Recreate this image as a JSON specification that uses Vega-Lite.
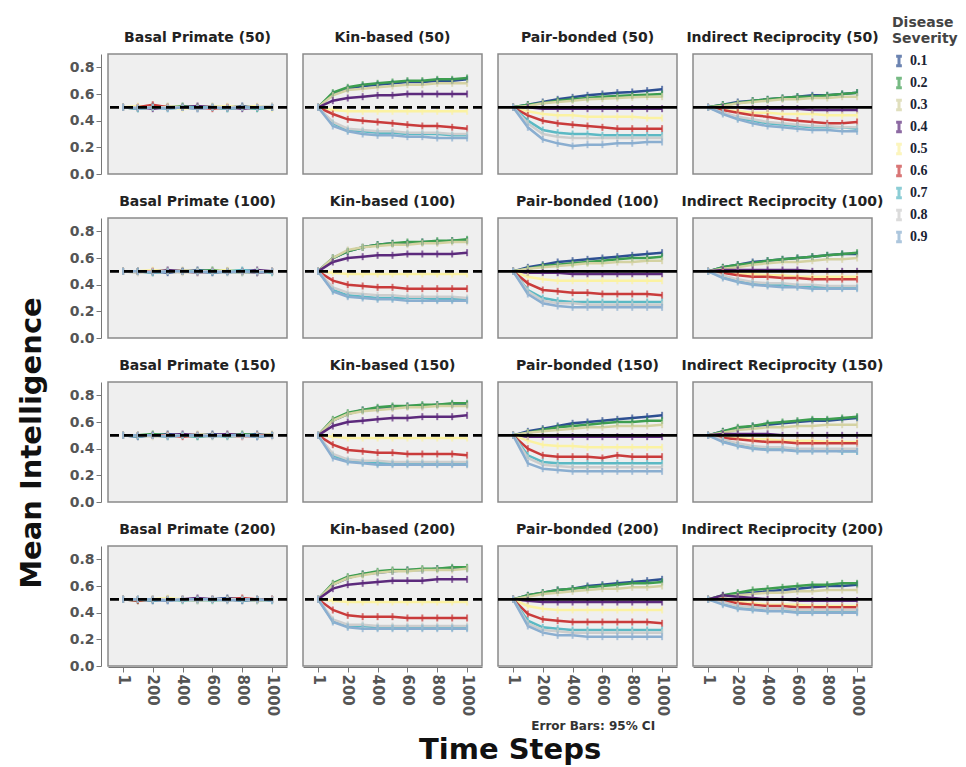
{
"$schema":"https://vega.github.io/schema/vega-lite/v6.json",
"background":"white",
"padding":{"left":18,"top":16,"right":2,"bottom":0},
"data":{"values":[
{"p":"Basal Primate (50)","t":1,"s1":0.5,"s2":0.5,"s3":0.5,"s4":0.5,"s5":0.5,"s6":0.5,"s7":0.5,"s8":0.5,"s9":0.5},
{"p":"Basal Primate (50)","t":100,"s1":0.5,"s2":0.49,"s3":0.5,"s4":0.5,"s5":0.51,"s6":0.5,"s7":0.49,"s8":0.5,"s9":0.49},
{"p":"Basal Primate (50)","t":200,"s1":0.51,"s2":0.5,"s3":0.5,"s4":0.49,"s5":0.5,"s6":0.52,"s7":0.5,"s8":0.5,"s9":0.5},
{"p":"Basal Primate (50)","t":300,"s1":0.5,"s2":0.5,"s3":0.51,"s4":0.5,"s5":0.5,"s6":0.5,"s7":0.49,"s8":0.5,"s9":0.49},
{"p":"Basal Primate (50)","t":400,"s1":0.5,"s2":0.51,"s3":0.5,"s4":0.5,"s5":0.49,"s6":0.5,"s7":0.5,"s8":0.5,"s9":0.5},
{"p":"Basal Primate (50)","t":500,"s1":0.49,"s2":0.5,"s3":0.5,"s4":0.51,"s5":0.5,"s6":0.5,"s7":0.5,"s8":0.49,"s9":0.49},
{"p":"Basal Primate (50)","t":600,"s1":0.5,"s2":0.5,"s3":0.51,"s4":0.5,"s5":0.5,"s6":0.49,"s7":0.5,"s8":0.5,"s9":0.5},
{"p":"Basal Primate (50)","t":700,"s1":0.5,"s2":0.49,"s3":0.5,"s4":0.5,"s5":0.51,"s6":0.5,"s7":0.49,"s8":0.5,"s9":0.49},
{"p":"Basal Primate (50)","t":800,"s1":0.51,"s2":0.5,"s3":0.5,"s4":0.49,"s5":0.5,"s6":0.5,"s7":0.5,"s8":0.5,"s9":0.5},
{"p":"Basal Primate (50)","t":900,"s1":0.5,"s2":0.49,"s3":0.5,"s4":0.5,"s5":0.51,"s6":0.5,"s7":0.49,"s8":0.5,"s9":0.5},
{"p":"Basal Primate (50)","t":1000,"s1":0.5,"s2":0.5,"s3":0.51,"s4":0.5,"s5":0.49,"s6":0.5,"s7":0.5,"s8":0.51,"s9":0.5},
{"p":"Kin-based (50)","t":1,"s1":0.5,"s2":0.5,"s3":0.5,"s4":0.5,"s5":0.5,"s6":0.5,"s7":0.5,"s8":0.5,"s9":0.5},
{"p":"Kin-based (50)","t":100,"s1":0.6,"s2":0.61,"s3":0.59,"s4":0.55,"s5":0.48,"s6":0.45,"s7":0.38,"s8":0.39,"s9":0.36},
{"p":"Kin-based (50)","t":200,"s1":0.64,"s2":0.65,"s3":0.63,"s4":0.57,"s5":0.47,"s6":0.41,"s7":0.33,"s8":0.34,"s9":0.32},
{"p":"Kin-based (50)","t":300,"s1":0.66,"s2":0.67,"s3":0.64,"s4":0.58,"s5":0.47,"s6":0.4,"s7":0.32,"s8":0.33,"s9":0.3},
{"p":"Kin-based (50)","t":400,"s1":0.67,"s2":0.68,"s3":0.65,"s4":0.59,"s5":0.47,"s6":0.39,"s7":0.31,"s8":0.32,"s9":0.29},
{"p":"Kin-based (50)","t":500,"s1":0.68,"s2":0.69,"s3":0.66,"s4":0.59,"s5":0.47,"s6":0.38,"s7":0.31,"s8":0.32,"s9":0.29},
{"p":"Kin-based (50)","t":600,"s1":0.69,"s2":0.7,"s3":0.67,"s4":0.6,"s5":0.47,"s6":0.37,"s7":0.3,"s8":0.31,"s9":0.28},
{"p":"Kin-based (50)","t":700,"s1":0.69,"s2":0.7,"s3":0.67,"s4":0.6,"s5":0.47,"s6":0.36,"s7":0.3,"s8":0.31,"s9":0.28},
{"p":"Kin-based (50)","t":800,"s1":0.7,"s2":0.71,"s3":0.68,"s4":0.6,"s5":0.47,"s6":0.36,"s7":0.3,"s8":0.31,"s9":0.27},
{"p":"Kin-based (50)","t":900,"s1":0.7,"s2":0.71,"s3":0.68,"s4":0.6,"s5":0.47,"s6":0.35,"s7":0.29,"s8":0.3,"s9":0.27},
{"p":"Kin-based (50)","t":1000,"s1":0.71,"s2":0.72,"s3":0.68,"s4":0.6,"s5":0.47,"s6":0.34,"s7":0.29,"s8":0.3,"s9":0.27},
{"p":"Pair-bonded (50)","t":1,"s1":0.5,"s2":0.5,"s3":0.5,"s4":0.5,"s5":0.5,"s6":0.5,"s7":0.5,"s8":0.5,"s9":0.5},
{"p":"Pair-bonded (50)","t":100,"s1":0.52,"s2":0.52,"s3":0.51,"s4":0.5,"s5":0.47,"s6":0.44,"s7":0.4,"s8":0.38,"s9":0.35},
{"p":"Pair-bonded (50)","t":200,"s1":0.54,"s2":0.53,"s3":0.53,"s4":0.49,"s5":0.45,"s6":0.4,"s7":0.33,"s8":0.3,"s9":0.26},
{"p":"Pair-bonded (50)","t":300,"s1":0.56,"s2":0.55,"s3":0.54,"s4":0.49,"s5":0.44,"s6":0.38,"s7":0.31,"s8":0.28,"s9":0.23},
{"p":"Pair-bonded (50)","t":400,"s1":0.575,"s2":0.56,"s3":0.55,"s4":0.49,"s5":0.44,"s6":0.37,"s7":0.3,"s8":0.27,"s9":0.21},
{"p":"Pair-bonded (50)","t":500,"s1":0.59,"s2":0.57,"s3":0.56,"s4":0.49,"s5":0.43,"s6":0.36,"s7":0.3,"s8":0.27,"s9":0.22},
{"p":"Pair-bonded (50)","t":600,"s1":0.6,"s2":0.58,"s3":0.565,"s4":0.49,"s5":0.43,"s6":0.35,"s7":0.29,"s8":0.27,"s9":0.22},
{"p":"Pair-bonded (50)","t":700,"s1":0.61,"s2":0.585,"s3":0.57,"s4":0.49,"s5":0.43,"s6":0.34,"s7":0.29,"s8":0.27,"s9":0.23},
{"p":"Pair-bonded (50)","t":800,"s1":0.615,"s2":0.59,"s3":0.575,"s4":0.49,"s5":0.43,"s6":0.34,"s7":0.29,"s8":0.27,"s9":0.23},
{"p":"Pair-bonded (50)","t":900,"s1":0.625,"s2":0.595,"s3":0.58,"s4":0.49,"s5":0.42,"s6":0.34,"s7":0.29,"s8":0.27,"s9":0.24},
{"p":"Pair-bonded (50)","t":1000,"s1":0.635,"s2":0.6,"s3":0.58,"s4":0.49,"s5":0.42,"s6":0.34,"s7":0.29,"s8":0.27,"s9":0.24},
{"p":"Indirect Reciprocity (50)","t":1,"s1":0.5,"s2":0.5,"s3":0.5,"s4":0.5,"s5":0.5,"s6":0.5,"s7":0.5,"s8":0.5,"s9":0.5},
{"p":"Indirect Reciprocity (50)","t":100,"s1":0.52,"s2":0.52,"s3":0.51,"s4":0.5,"s5":0.48,"s6":0.48,"s7":0.46,"s8":0.46,"s9":0.45},
{"p":"Indirect Reciprocity (50)","t":200,"s1":0.54,"s2":0.53,"s3":0.53,"s4":0.5,"s5":0.47,"s6":0.46,"s7":0.42,"s8":0.43,"s9":0.41},
{"p":"Indirect Reciprocity (50)","t":300,"s1":0.55,"s2":0.55,"s3":0.54,"s4":0.49,"s5":0.46,"s6":0.44,"s7":0.4,"s8":0.41,"s9":0.38},
{"p":"Indirect Reciprocity (50)","t":400,"s1":0.56,"s2":0.56,"s3":0.55,"s4":0.49,"s5":0.46,"s6":0.43,"s7":0.38,"s8":0.39,"s9":0.36},
{"p":"Indirect Reciprocity (50)","t":500,"s1":0.57,"s2":0.57,"s3":0.56,"s4":0.49,"s5":0.45,"s6":0.41,"s7":0.37,"s8":0.38,"s9":0.35},
{"p":"Indirect Reciprocity (50)","t":600,"s1":0.58,"s2":0.58,"s3":0.56,"s4":0.49,"s5":0.45,"s6":0.4,"s7":0.36,"s8":0.37,"s9":0.34},
{"p":"Indirect Reciprocity (50)","t":700,"s1":0.59,"s2":0.58,"s3":0.57,"s4":0.48,"s5":0.45,"s6":0.39,"s7":0.35,"s8":0.36,"s9":0.33},
{"p":"Indirect Reciprocity (50)","t":800,"s1":0.59,"s2":0.59,"s3":0.57,"s4":0.48,"s5":0.44,"s6":0.38,"s7":0.35,"s8":0.36,"s9":0.33},
{"p":"Indirect Reciprocity (50)","t":900,"s1":0.6,"s2":0.6,"s3":0.58,"s4":0.48,"s5":0.44,"s6":0.38,"s7":0.35,"s8":0.35,"s9":0.32},
{"p":"Indirect Reciprocity (50)","t":1000,"s1":0.61,"s2":0.61,"s3":0.58,"s4":0.48,"s5":0.44,"s6":0.39,"s7":0.34,"s8":0.35,"s9":0.32},
{"p":"Basal Primate (100)","t":1,"s1":0.5,"s2":0.5,"s3":0.5,"s4":0.5,"s5":0.5,"s6":0.5,"s7":0.5,"s8":0.5,"s9":0.5},
{"p":"Basal Primate (100)","t":100,"s1":0.5,"s2":0.5,"s3":0.49,"s4":0.5,"s5":0.5,"s6":0.5,"s7":0.5,"s8":0.49,"s9":0.5},
{"p":"Basal Primate (100)","t":200,"s1":0.5,"s2":0.49,"s3":0.5,"s4":0.5,"s5":0.51,"s6":0.5,"s7":0.49,"s8":0.5,"s9":0.49},
{"p":"Basal Primate (100)","t":300,"s1":0.49,"s2":0.5,"s3":0.5,"s4":0.51,"s5":0.5,"s6":0.5,"s7":0.5,"s8":0.5,"s9":0.5},
{"p":"Basal Primate (100)","t":400,"s1":0.5,"s2":0.5,"s3":0.51,"s4":0.5,"s5":0.49,"s6":0.5,"s7":0.5,"s8":0.49,"s9":0.5},
{"p":"Basal Primate (100)","t":500,"s1":0.51,"s2":0.5,"s3":0.5,"s4":0.5,"s5":0.5,"s6":0.49,"s7":0.5,"s8":0.5,"s9":0.49},
{"p":"Basal Primate (100)","t":600,"s1":0.5,"s2":0.51,"s3":0.5,"s4":0.49,"s5":0.5,"s6":0.5,"s7":0.49,"s8":0.5,"s9":0.5},
{"p":"Basal Primate (100)","t":700,"s1":0.5,"s2":0.5,"s3":0.49,"s4":0.5,"s5":0.51,"s6":0.5,"s7":0.5,"s8":0.5,"s9":0.49},
{"p":"Basal Primate (100)","t":800,"s1":0.5,"s2":0.49,"s3":0.5,"s4":0.5,"s5":0.5,"s6":0.5,"s7":0.51,"s8":0.49,"s9":0.5},
{"p":"Basal Primate (100)","t":900,"s1":0.49,"s2":0.5,"s3":0.5,"s4":0.51,"s5":0.5,"s6":0.49,"s7":0.5,"s8":0.5,"s9":0.49},
{"p":"Basal Primate (100)","t":1000,"s1":0.5,"s2":0.5,"s3":0.49,"s4":0.5,"s5":0.5,"s6":0.5,"s7":0.49,"s8":0.5,"s9":0.5},
{"p":"Kin-based (100)","t":1,"s1":0.5,"s2":0.5,"s3":0.5,"s4":0.5,"s5":0.5,"s6":0.5,"s7":0.5,"s8":0.5,"s9":0.5},
{"p":"Kin-based (100)","t":100,"s1":0.6,"s2":0.6,"s3":0.6,"s4":0.57,"s5":0.49,"s6":0.43,"s7":0.36,"s8":0.38,"s9":0.35},
{"p":"Kin-based (100)","t":200,"s1":0.65,"s2":0.65,"s3":0.66,"s4":0.6,"s5":0.48,"s6":0.4,"s7":0.32,"s8":0.34,"s9":0.31},
{"p":"Kin-based (100)","t":300,"s1":0.68,"s2":0.68,"s3":0.68,"s4":0.61,"s5":0.48,"s6":0.39,"s7":0.31,"s8":0.33,"s9":0.3},
{"p":"Kin-based (100)","t":400,"s1":0.7,"s2":0.7,"s3":0.69,"s4":0.62,"s5":0.48,"s6":0.38,"s7":0.3,"s8":0.32,"s9":0.29},
{"p":"Kin-based (100)","t":500,"s1":0.71,"s2":0.71,"s3":0.7,"s4":0.62,"s5":0.48,"s6":0.38,"s7":0.3,"s8":0.32,"s9":0.29},
{"p":"Kin-based (100)","t":600,"s1":0.71,"s2":0.72,"s3":0.7,"s4":0.63,"s5":0.48,"s6":0.37,"s7":0.3,"s8":0.31,"s9":0.28},
{"p":"Kin-based (100)","t":700,"s1":0.72,"s2":0.72,"s3":0.71,"s4":0.63,"s5":0.48,"s6":0.37,"s7":0.3,"s8":0.31,"s9":0.28},
{"p":"Kin-based (100)","t":800,"s1":0.72,"s2":0.73,"s3":0.71,"s4":0.63,"s5":0.48,"s6":0.37,"s7":0.29,"s8":0.31,"s9":0.28},
{"p":"Kin-based (100)","t":900,"s1":0.73,"s2":0.73,"s3":0.72,"s4":0.63,"s5":0.48,"s6":0.37,"s7":0.29,"s8":0.31,"s9":0.28},
{"p":"Kin-based (100)","t":1000,"s1":0.73,"s2":0.74,"s3":0.72,"s4":0.64,"s5":0.48,"s6":0.37,"s7":0.29,"s8":0.3,"s9":0.28},
{"p":"Pair-bonded (100)","t":1,"s1":0.5,"s2":0.5,"s3":0.5,"s4":0.5,"s5":0.5,"s6":0.5,"s7":0.5,"s8":0.5,"s9":0.5},
{"p":"Pair-bonded (100)","t":100,"s1":0.53,"s2":0.52,"s3":0.52,"s4":0.49,"s5":0.46,"s6":0.41,"s7":0.36,"s8":0.35,"s9":0.33},
{"p":"Pair-bonded (100)","t":200,"s1":0.55,"s2":0.54,"s3":0.53,"s4":0.49,"s5":0.44,"s6":0.36,"s7":0.3,"s8":0.28,"s9":0.26},
{"p":"Pair-bonded (100)","t":300,"s1":0.57,"s2":0.55,"s3":0.54,"s4":0.49,"s5":0.43,"s6":0.35,"s7":0.28,"s8":0.26,"s9":0.24},
{"p":"Pair-bonded (100)","t":400,"s1":0.58,"s2":0.56,"s3":0.55,"s4":0.48,"s5":0.43,"s6":0.34,"s7":0.27,"s8":0.26,"s9":0.23},
{"p":"Pair-bonded (100)","t":500,"s1":0.59,"s2":0.57,"s3":0.56,"s4":0.48,"s5":0.43,"s6":0.34,"s7":0.27,"s8":0.25,"s9":0.23},
{"p":"Pair-bonded (100)","t":600,"s1":0.6,"s2":0.58,"s3":0.56,"s4":0.48,"s5":0.43,"s6":0.33,"s7":0.27,"s8":0.25,"s9":0.23},
{"p":"Pair-bonded (100)","t":700,"s1":0.61,"s2":0.59,"s3":0.57,"s4":0.48,"s5":0.43,"s6":0.33,"s7":0.27,"s8":0.25,"s9":0.23},
{"p":"Pair-bonded (100)","t":800,"s1":0.62,"s2":0.6,"s3":0.57,"s4":0.48,"s5":0.43,"s6":0.33,"s7":0.27,"s8":0.25,"s9":0.23},
{"p":"Pair-bonded (100)","t":900,"s1":0.63,"s2":0.6,"s3":0.58,"s4":0.48,"s5":0.43,"s6":0.33,"s7":0.27,"s8":0.25,"s9":0.23},
{"p":"Pair-bonded (100)","t":1000,"s1":0.64,"s2":0.61,"s3":0.58,"s4":0.48,"s5":0.43,"s6":0.32,"s7":0.27,"s8":0.25,"s9":0.23},
{"p":"Indirect Reciprocity (100)","t":1,"s1":0.5,"s2":0.5,"s3":0.5,"s4":0.5,"s5":0.5,"s6":0.5,"s7":0.5,"s8":0.5,"s9":0.5},
{"p":"Indirect Reciprocity (100)","t":100,"s1":0.53,"s2":0.53,"s3":0.52,"s4":0.51,"s5":0.49,"s6":0.49,"s7":0.46,"s8":0.47,"s9":0.45},
{"p":"Indirect Reciprocity (100)","t":200,"s1":0.55,"s2":0.55,"s3":0.53,"s4":0.51,"s5":0.48,"s6":0.47,"s7":0.43,"s8":0.44,"s9":0.42},
{"p":"Indirect Reciprocity (100)","t":300,"s1":0.57,"s2":0.56,"s3":0.55,"s4":0.51,"s5":0.48,"s6":0.46,"s7":0.41,"s8":0.42,"s9":0.4},
{"p":"Indirect Reciprocity (100)","t":400,"s1":0.58,"s2":0.58,"s3":0.56,"s4":0.51,"s5":0.47,"s6":0.46,"s7":0.4,"s8":0.41,"s9":0.39},
{"p":"Indirect Reciprocity (100)","t":500,"s1":0.59,"s2":0.59,"s3":0.57,"s4":0.51,"s5":0.47,"s6":0.45,"s7":0.4,"s8":0.41,"s9":0.38},
{"p":"Indirect Reciprocity (100)","t":600,"s1":0.6,"s2":0.6,"s3":0.57,"s4":0.51,"s5":0.46,"s6":0.45,"s7":0.39,"s8":0.4,"s9":0.38},
{"p":"Indirect Reciprocity (100)","t":700,"s1":0.61,"s2":0.61,"s3":0.58,"s4":0.5,"s5":0.46,"s6":0.44,"s7":0.38,"s8":0.4,"s9":0.37},
{"p":"Indirect Reciprocity (100)","t":800,"s1":0.62,"s2":0.62,"s3":0.59,"s4":0.5,"s5":0.46,"s6":0.44,"s7":0.38,"s8":0.39,"s9":0.37},
{"p":"Indirect Reciprocity (100)","t":900,"s1":0.63,"s2":0.63,"s3":0.59,"s4":0.5,"s5":0.46,"s6":0.44,"s7":0.38,"s8":0.39,"s9":0.37},
{"p":"Indirect Reciprocity (100)","t":1000,"s1":0.63,"s2":0.64,"s3":0.6,"s4":0.5,"s5":0.46,"s6":0.44,"s7":0.38,"s8":0.39,"s9":0.37},
{"p":"Basal Primate (150)","t":1,"s1":0.5,"s2":0.5,"s3":0.5,"s4":0.5,"s5":0.5,"s6":0.5,"s7":0.5,"s8":0.5,"s9":0.5},
{"p":"Basal Primate (150)","t":100,"s1":0.5,"s2":0.5,"s3":0.5,"s4":0.49,"s5":0.5,"s6":0.5,"s7":0.49,"s8":0.5,"s9":0.5},
{"p":"Basal Primate (150)","t":200,"s1":0.5,"s2":0.51,"s3":0.5,"s4":0.5,"s5":0.49,"s6":0.5,"s7":0.5,"s8":0.49,"s9":0.5},
{"p":"Basal Primate (150)","t":300,"s1":0.51,"s2":0.5,"s3":0.49,"s4":0.5,"s5":0.5,"s6":0.5,"s7":0.49,"s8":0.5,"s9":0.49},
{"p":"Basal Primate (150)","t":400,"s1":0.5,"s2":0.5,"s3":0.5,"s4":0.51,"s5":0.5,"s6":0.49,"s7":0.5,"s8":0.5,"s9":0.5},
{"p":"Basal Primate (150)","t":500,"s1":0.5,"s2":0.49,"s3":0.51,"s4":0.5,"s5":0.5,"s6":0.5,"s7":0.49,"s8":0.5,"s9":0.5},
{"p":"Basal Primate (150)","t":600,"s1":0.51,"s2":0.5,"s3":0.5,"s4":0.5,"s5":0.49,"s6":0.5,"s7":0.5,"s8":0.5,"s9":0.49},
{"p":"Basal Primate (150)","t":700,"s1":0.5,"s2":0.5,"s3":0.49,"s4":0.51,"s5":0.5,"s6":0.5,"s7":0.49,"s8":0.5,"s9":0.5},
{"p":"Basal Primate (150)","t":800,"s1":0.5,"s2":0.51,"s3":0.5,"s4":0.5,"s5":0.5,"s6":0.49,"s7":0.5,"s8":0.49,"s9":0.5},
{"p":"Basal Primate (150)","t":900,"s1":0.51,"s2":0.5,"s3":0.5,"s4":0.49,"s5":0.5,"s6":0.5,"s7":0.49,"s8":0.5,"s9":0.49},
{"p":"Basal Primate (150)","t":1000,"s1":0.5,"s2":0.5,"s3":0.51,"s4":0.5,"s5":0.5,"s6":0.5,"s7":0.5,"s8":0.49,"s9":0.5},
{"p":"Kin-based (150)","t":1,"s1":0.5,"s2":0.5,"s3":0.5,"s4":0.5,"s5":0.5,"s6":0.5,"s7":0.5,"s8":0.5,"s9":0.5},
{"p":"Kin-based (150)","t":100,"s1":0.61,"s2":0.62,"s3":0.61,"s4":0.57,"s5":0.49,"s6":0.43,"s7":0.35,"s8":0.36,"s9":0.33},
{"p":"Kin-based (150)","t":200,"s1":0.66,"s2":0.67,"s3":0.66,"s4":0.6,"s5":0.48,"s6":0.39,"s7":0.31,"s8":0.32,"s9":0.3},
{"p":"Kin-based (150)","t":300,"s1":0.69,"s2":0.69,"s3":0.68,"s4":0.61,"s5":0.48,"s6":0.38,"s7":0.3,"s8":0.31,"s9":0.29},
{"p":"Kin-based (150)","t":400,"s1":0.7,"s2":0.71,"s3":0.69,"s4":0.62,"s5":0.48,"s6":0.37,"s7":0.29,"s8":0.31,"s9":0.28},
{"p":"Kin-based (150)","t":500,"s1":0.71,"s2":0.72,"s3":0.7,"s4":0.63,"s5":0.48,"s6":0.37,"s7":0.29,"s8":0.3,"s9":0.28},
{"p":"Kin-based (150)","t":600,"s1":0.72,"s2":0.72,"s3":0.71,"s4":0.63,"s5":0.48,"s6":0.36,"s7":0.29,"s8":0.3,"s9":0.28},
{"p":"Kin-based (150)","t":700,"s1":0.72,"s2":0.73,"s3":0.71,"s4":0.64,"s5":0.48,"s6":0.36,"s7":0.29,"s8":0.3,"s9":0.28},
{"p":"Kin-based (150)","t":800,"s1":0.73,"s2":0.73,"s3":0.72,"s4":0.64,"s5":0.48,"s6":0.36,"s7":0.29,"s8":0.3,"s9":0.28},
{"p":"Kin-based (150)","t":900,"s1":0.73,"s2":0.74,"s3":0.72,"s4":0.64,"s5":0.48,"s6":0.36,"s7":0.29,"s8":0.3,"s9":0.28},
{"p":"Kin-based (150)","t":1000,"s1":0.73,"s2":0.74,"s3":0.72,"s4":0.65,"s5":0.48,"s6":0.35,"s7":0.29,"s8":0.3,"s9":0.28},
{"p":"Pair-bonded (150)","t":1,"s1":0.5,"s2":0.5,"s3":0.5,"s4":0.5,"s5":0.5,"s6":0.5,"s7":0.5,"s8":0.5,"s9":0.5},
{"p":"Pair-bonded (150)","t":100,"s1":0.53,"s2":0.52,"s3":0.52,"s4":0.49,"s5":0.46,"s6":0.4,"s7":0.35,"s8":0.33,"s9":0.29},
{"p":"Pair-bonded (150)","t":200,"s1":0.55,"s2":0.54,"s3":0.53,"s4":0.49,"s5":0.43,"s6":0.35,"s7":0.3,"s8":0.28,"s9":0.25},
{"p":"Pair-bonded (150)","t":300,"s1":0.57,"s2":0.56,"s3":0.54,"s4":0.49,"s5":0.42,"s6":0.34,"s7":0.29,"s8":0.27,"s9":0.24},
{"p":"Pair-bonded (150)","t":400,"s1":0.59,"s2":0.57,"s3":0.55,"s4":0.49,"s5":0.42,"s6":0.34,"s7":0.29,"s8":0.26,"s9":0.23},
{"p":"Pair-bonded (150)","t":500,"s1":0.6,"s2":0.58,"s3":0.56,"s4":0.49,"s5":0.41,"s6":0.34,"s7":0.29,"s8":0.26,"s9":0.23},
{"p":"Pair-bonded (150)","t":600,"s1":0.61,"s2":0.59,"s3":0.56,"s4":0.49,"s5":0.41,"s6":0.33,"s7":0.29,"s8":0.26,"s9":0.23},
{"p":"Pair-bonded (150)","t":700,"s1":0.62,"s2":0.6,"s3":0.57,"s4":0.49,"s5":0.41,"s6":0.35,"s7":0.29,"s8":0.26,"s9":0.23},
{"p":"Pair-bonded (150)","t":800,"s1":0.63,"s2":0.6,"s3":0.57,"s4":0.49,"s5":0.41,"s6":0.34,"s7":0.29,"s8":0.26,"s9":0.23},
{"p":"Pair-bonded (150)","t":900,"s1":0.64,"s2":0.61,"s3":0.57,"s4":0.49,"s5":0.41,"s6":0.34,"s7":0.29,"s8":0.26,"s9":0.23},
{"p":"Pair-bonded (150)","t":1000,"s1":0.65,"s2":0.61,"s3":0.58,"s4":0.49,"s5":0.41,"s6":0.34,"s7":0.29,"s8":0.26,"s9":0.23},
{"p":"Indirect Reciprocity (150)","t":1,"s1":0.5,"s2":0.5,"s3":0.5,"s4":0.5,"s5":0.5,"s6":0.5,"s7":0.5,"s8":0.5,"s9":0.5},
{"p":"Indirect Reciprocity (150)","t":100,"s1":0.53,"s2":0.53,"s3":0.52,"s4":0.51,"s5":0.49,"s6":0.48,"s7":0.46,"s8":0.47,"s9":0.45},
{"p":"Indirect Reciprocity (150)","t":200,"s1":0.55,"s2":0.56,"s3":0.54,"s4":0.51,"s5":0.48,"s6":0.47,"s7":0.43,"s8":0.44,"s9":0.42},
{"p":"Indirect Reciprocity (150)","t":300,"s1":0.57,"s2":0.57,"s3":0.55,"s4":0.51,"s5":0.47,"s6":0.46,"s7":0.41,"s8":0.42,"s9":0.4},
{"p":"Indirect Reciprocity (150)","t":400,"s1":0.58,"s2":0.59,"s3":0.56,"s4":0.51,"s5":0.47,"s6":0.45,"s7":0.4,"s8":0.41,"s9":0.39},
{"p":"Indirect Reciprocity (150)","t":500,"s1":0.59,"s2":0.6,"s3":0.56,"s4":0.5,"s5":0.46,"s6":0.45,"s7":0.4,"s8":0.41,"s9":0.39},
{"p":"Indirect Reciprocity (150)","t":600,"s1":0.6,"s2":0.61,"s3":0.57,"s4":0.5,"s5":0.46,"s6":0.44,"s7":0.39,"s8":0.4,"s9":0.38},
{"p":"Indirect Reciprocity (150)","t":700,"s1":0.61,"s2":0.62,"s3":0.57,"s4":0.5,"s5":0.46,"s6":0.44,"s7":0.39,"s8":0.4,"s9":0.38},
{"p":"Indirect Reciprocity (150)","t":800,"s1":0.61,"s2":0.62,"s3":0.58,"s4":0.5,"s5":0.45,"s6":0.44,"s7":0.39,"s8":0.4,"s9":0.38},
{"p":"Indirect Reciprocity (150)","t":900,"s1":0.62,"s2":0.63,"s3":0.58,"s4":0.5,"s5":0.45,"s6":0.44,"s7":0.38,"s8":0.4,"s9":0.38},
{"p":"Indirect Reciprocity (150)","t":1000,"s1":0.63,"s2":0.64,"s3":0.58,"s4":0.5,"s5":0.45,"s6":0.44,"s7":0.38,"s8":0.4,"s9":0.38},
{"p":"Basal Primate (200)","t":1,"s1":0.5,"s2":0.5,"s3":0.5,"s4":0.5,"s5":0.5,"s6":0.5,"s7":0.5,"s8":0.5,"s9":0.5},
{"p":"Basal Primate (200)","t":100,"s1":0.5,"s2":0.49,"s3":0.5,"s4":0.5,"s5":0.5,"s6":0.49,"s7":0.5,"s8":0.5,"s9":0.5},
{"p":"Basal Primate (200)","t":200,"s1":0.5,"s2":0.5,"s3":0.5,"s4":0.49,"s5":0.5,"s6":0.5,"s7":0.49,"s8":0.5,"s9":0.5},
{"p":"Basal Primate (200)","t":300,"s1":0.49,"s2":0.5,"s3":0.5,"s4":0.5,"s5":0.51,"s6":0.5,"s7":0.5,"s8":0.5,"s9":0.49},
{"p":"Basal Primate (200)","t":400,"s1":0.5,"s2":0.5,"s3":0.49,"s4":0.5,"s5":0.5,"s6":0.5,"s7":0.49,"s8":0.5,"s9":0.5},
{"p":"Basal Primate (200)","t":500,"s1":0.5,"s2":0.49,"s3":0.5,"s4":0.51,"s5":0.5,"s6":0.5,"s7":0.5,"s8":0.49,"s9":0.5},
{"p":"Basal Primate (200)","t":600,"s1":0.5,"s2":0.5,"s3":0.5,"s4":0.5,"s5":0.49,"s6":0.5,"s7":0.49,"s8":0.5,"s9":0.5},
{"p":"Basal Primate (200)","t":700,"s1":0.51,"s2":0.5,"s3":0.49,"s4":0.5,"s5":0.5,"s6":0.5,"s7":0.5,"s8":0.5,"s9":0.49},
{"p":"Basal Primate (200)","t":800,"s1":0.5,"s2":0.5,"s3":0.5,"s4":0.49,"s5":0.5,"s6":0.51,"s7":0.49,"s8":0.5,"s9":0.5},
{"p":"Basal Primate (200)","t":900,"s1":0.5,"s2":0.49,"s3":0.5,"s4":0.5,"s5":0.5,"s6":0.5,"s7":0.5,"s8":0.49,"s9":0.5},
{"p":"Basal Primate (200)","t":1000,"s1":0.5,"s2":0.5,"s3":0.5,"s4":0.5,"s5":0.49,"s6":0.5,"s7":0.49,"s8":0.5,"s9":0.49},
{"p":"Kin-based (200)","t":1,"s1":0.5,"s2":0.5,"s3":0.5,"s4":0.5,"s5":0.5,"s6":0.5,"s7":0.5,"s8":0.5,"s9":0.5},
{"p":"Kin-based (200)","t":100,"s1":0.61,"s2":0.62,"s3":0.61,"s4":0.58,"s5":0.49,"s6":0.42,"s7":0.34,"s8":0.35,"s9":0.33},
{"p":"Kin-based (200)","t":200,"s1":0.66,"s2":0.67,"s3":0.66,"s4":0.61,"s5":0.48,"s6":0.38,"s7":0.3,"s8":0.31,"s9":0.29},
{"p":"Kin-based (200)","t":300,"s1":0.69,"s2":0.69,"s3":0.68,"s4":0.62,"s5":0.48,"s6":0.37,"s7":0.3,"s8":0.31,"s9":0.28},
{"p":"Kin-based (200)","t":400,"s1":0.7,"s2":0.71,"s3":0.7,"s4":0.63,"s5":0.48,"s6":0.37,"s7":0.29,"s8":0.3,"s9":0.28},
{"p":"Kin-based (200)","t":500,"s1":0.71,"s2":0.72,"s3":0.71,"s4":0.64,"s5":0.48,"s6":0.37,"s7":0.29,"s8":0.3,"s9":0.28},
{"p":"Kin-based (200)","t":600,"s1":0.72,"s2":0.72,"s3":0.71,"s4":0.64,"s5":0.48,"s6":0.36,"s7":0.29,"s8":0.3,"s9":0.28},
{"p":"Kin-based (200)","t":700,"s1":0.72,"s2":0.73,"s3":0.72,"s4":0.64,"s5":0.48,"s6":0.36,"s7":0.29,"s8":0.3,"s9":0.28},
{"p":"Kin-based (200)","t":800,"s1":0.73,"s2":0.73,"s3":0.72,"s4":0.65,"s5":0.48,"s6":0.36,"s7":0.29,"s8":0.3,"s9":0.28},
{"p":"Kin-based (200)","t":900,"s1":0.73,"s2":0.74,"s3":0.72,"s4":0.65,"s5":0.48,"s6":0.36,"s7":0.29,"s8":0.3,"s9":0.28},
{"p":"Kin-based (200)","t":1000,"s1":0.73,"s2":0.74,"s3":0.73,"s4":0.65,"s5":0.48,"s6":0.36,"s7":0.29,"s8":0.3,"s9":0.28},
{"p":"Pair-bonded (200)","t":1,"s1":0.5,"s2":0.5,"s3":0.5,"s4":0.5,"s5":0.5,"s6":0.5,"s7":0.5,"s8":0.5,"s9":0.5},
{"p":"Pair-bonded (200)","t":100,"s1":0.53,"s2":0.53,"s3":0.52,"s4":0.49,"s5":0.45,"s6":0.39,"s7":0.34,"s8":0.32,"s9":0.3},
{"p":"Pair-bonded (200)","t":200,"s1":0.55,"s2":0.55,"s3":0.54,"s4":0.48,"s5":0.43,"s6":0.35,"s7":0.29,"s8":0.27,"s9":0.25},
{"p":"Pair-bonded (200)","t":300,"s1":0.57,"s2":0.57,"s3":0.55,"s4":0.48,"s5":0.42,"s6":0.34,"s7":0.28,"s8":0.26,"s9":0.23},
{"p":"Pair-bonded (200)","t":400,"s1":0.58,"s2":0.58,"s3":0.56,"s4":0.48,"s5":0.42,"s6":0.33,"s7":0.27,"s8":0.25,"s9":0.23},
{"p":"Pair-bonded (200)","t":500,"s1":0.6,"s2":0.59,"s3":0.57,"s4":0.48,"s5":0.42,"s6":0.33,"s7":0.27,"s8":0.25,"s9":0.22},
{"p":"Pair-bonded (200)","t":600,"s1":0.61,"s2":0.6,"s3":0.58,"s4":0.48,"s5":0.42,"s6":0.33,"s7":0.27,"s8":0.25,"s9":0.22},
{"p":"Pair-bonded (200)","t":700,"s1":0.62,"s2":0.61,"s3":0.58,"s4":0.48,"s5":0.42,"s6":0.33,"s7":0.27,"s8":0.25,"s9":0.22},
{"p":"Pair-bonded (200)","t":800,"s1":0.63,"s2":0.62,"s3":0.59,"s4":0.48,"s5":0.42,"s6":0.33,"s7":0.27,"s8":0.25,"s9":0.22},
{"p":"Pair-bonded (200)","t":900,"s1":0.64,"s2":0.62,"s3":0.59,"s4":0.48,"s5":0.42,"s6":0.33,"s7":0.27,"s8":0.25,"s9":0.22},
{"p":"Pair-bonded (200)","t":1000,"s1":0.65,"s2":0.63,"s3":0.6,"s4":0.48,"s5":0.42,"s6":0.32,"s7":0.27,"s8":0.25,"s9":0.22},
{"p":"Indirect Reciprocity (200)","t":1,"s1":0.5,"s2":0.5,"s3":0.5,"s4":0.5,"s5":0.5,"s6":0.5,"s7":0.5,"s8":0.5,"s9":0.5},
{"p":"Indirect Reciprocity (200)","t":100,"s1":0.52,"s2":0.53,"s3":0.52,"s4":0.53,"s5":0.49,"s6":0.49,"s7":0.47,"s8":0.48,"s9":0.46},
{"p":"Indirect Reciprocity (200)","t":200,"s1":0.54,"s2":0.55,"s3":0.53,"s4":0.52,"s5":0.48,"s6":0.47,"s7":0.44,"s8":0.45,"s9":0.43},
{"p":"Indirect Reciprocity (200)","t":300,"s1":0.55,"s2":0.57,"s3":0.54,"s4":0.51,"s5":0.47,"s6":0.46,"s7":0.43,"s8":0.44,"s9":0.42},
{"p":"Indirect Reciprocity (200)","t":400,"s1":0.56,"s2":0.58,"s3":0.55,"s4":0.5,"s5":0.46,"s6":0.45,"s7":0.42,"s8":0.43,"s9":0.41},
{"p":"Indirect Reciprocity (200)","t":500,"s1":0.57,"s2":0.59,"s3":0.55,"s4":0.5,"s5":0.46,"s6":0.45,"s7":0.42,"s8":0.43,"s9":0.41},
{"p":"Indirect Reciprocity (200)","t":600,"s1":0.58,"s2":0.6,"s3":0.56,"s4":0.49,"s5":0.46,"s6":0.44,"s7":0.41,"s8":0.42,"s9":0.4},
{"p":"Indirect Reciprocity (200)","t":700,"s1":0.59,"s2":0.61,"s3":0.56,"s4":0.49,"s5":0.45,"s6":0.44,"s7":0.41,"s8":0.42,"s9":0.4},
{"p":"Indirect Reciprocity (200)","t":800,"s1":0.6,"s2":0.61,"s3":0.57,"s4":0.49,"s5":0.45,"s6":0.44,"s7":0.41,"s8":0.42,"s9":0.4},
{"p":"Indirect Reciprocity (200)","t":900,"s1":0.6,"s2":0.62,"s3":0.57,"s4":0.49,"s5":0.45,"s6":0.44,"s7":0.41,"s8":0.42,"s9":0.4},
{"p":"Indirect Reciprocity (200)","t":1000,"s1":0.61,"s2":0.62,"s3":0.57,"s4":0.49,"s5":0.45,"s6":0.44,"s7":0.41,"s8":0.42,"s9":0.4}
]},
"title":{"text":"Time Steps","orient":"bottom","anchor":"middle","dx":22,"fontSize":29,"font":"DejaVu Sans","fontWeight":"bold","color":"#111","offset":4},
"vconcat":[{
 "title":{"text":"Error Bars: 95% CI","orient":"bottom","anchor":"middle","dx":142,"fontSize":12,"font":"DejaVu Sans","fontWeight":"bold","color":"#333","offset":5},
 "vconcat":[{
  "title":{"text":"Mean Intelligence","orient":"left","anchor":"middle","dx":-70,"fontSize":29,"font":"DejaVu Sans","fontWeight":"bold","color":"#111","offset":22},
  "transform":[{"fold":["s1","s2","s3","s4","s5","s6","s7","s8","s9"],"as":["k","v"]}],
  "bounds":"flush",
  "facet":{"field":"p","type":"nominal","title":null,
    "sort":["Basal Primate (50)","Kin-based (50)","Pair-bonded (50)","Indirect Reciprocity (50)","Basal Primate (100)","Kin-based (100)","Pair-bonded (100)","Indirect Reciprocity (100)","Basal Primate (150)","Kin-based (150)","Pair-bonded (150)","Indirect Reciprocity (150)","Basal Primate (200)","Kin-based (200)","Pair-bonded (200)","Indirect Reciprocity (200)"],
    "header":{"labelFont":"DejaVu Sans","labelFontSize":14,"labelFontWeight":"bold","labelColor":"#222","labelPadding":9}},
  "columns":4,
  "spacing":{"row":44,"column":16},
  "spec":{
    "width":179,"height":120,
    "layer":[
      {"mark":{"type":"line","strokeWidth":2.5},
       "encoding":{
         "x":{"field":"t","type":"quantitative","scale":{"domain":[-100,1100],"nice":false,"zero":false},
              "axis":{"values":[1,200,400,600,800,1000],"tickCount":20,"format":"d","labelAngle":90,"labelAlign":"left","labelBaseline":"middle","labelOverlap":false,"labelFlush":false,"labelBound":false,"labelFontSize":15,"title":null,"grid":false,"offset":1}},
         "y":{"field":"v","type":"quantitative","scale":{"domain":[0,0.9],"nice":false,"zero":false},
              "axis":{"values":[0,0.2,0.4,0.6,0.8],"tickCount":20,"format":".1f","labelOverlap":false,"labelFlush":false,"labelBound":false,"labelFontSize":14,"title":null,"grid":false,"offset":7}},
         "color":{"field":"k","type":"nominal",
            "scale":{"domain":["s1","s2","s3","s4","s5","s6","s7","s8","s9"],"range":["#2d4f91","#3d9e4f","#d4d2a2","#5c2a7c","#fbf2a2","#c93b3b","#5bb9c4","#cdcdcd","#8aaed0"]},
            "legend":{"title":["Disease","Severity"],"labelExpr":"replace(datum.label,'s','0.')","orient":"none","legendX":784,"legendY":-38}}
       }},
      {"mark":{"type":"tick","orient":"vertical","size":7,"thickness":2},
       "encoding":{
         "x":{"field":"t","type":"quantitative"},
         "y":{"field":"v","type":"quantitative"},
         "color":{"field":"k","type":"nominal"}
       }},
      {"transform":[{"filter":"indexof(datum.p,'Pair')>=0 || indexof(datum.p,'Indirect')>=0"},{"aggregate":[{"op":"count","as":"n"}],"groupby":["p"]}],
       "mark":{"type":"rule","color":"black","strokeWidth":2.6},
       "encoding":{"y":{"datum":0.5}}},
      {"transform":[{"filter":"indexof(datum.p,'Basal')>=0 || indexof(datum.p,'Kin')>=0"},{"aggregate":[{"op":"count","as":"n"}],"groupby":["p"]}],
       "mark":{"type":"rule","color":"black","strokeWidth":2.6,"strokeDash":[9,5]},
       "encoding":{"y":{"datum":0.5}}}
    ]
  }
 }]
}],
"config":{
  "view":{"fill":"#efefef","stroke":"#8a8a8a","strokeWidth":1.5},
  "axis":{"domainColor":"#777","tickColor":"#777","tickSize":5,"labelFont":"DejaVu Sans","labelFontWeight":"bold","labelColor":"#555"},
  "legend":{"titleFont":"DejaVu Sans","titleFontSize":14,"titleFontWeight":"bold","titleColor":"#444","titleLineHeight":16,"titlePadding":8,"labelFont":"Liberation Serif","labelFontSize":14,"labelFontWeight":"bold","labelColor":"#1a2333","symbolType":"M-0.6,-1H0.6M0,-1V1M-0.6,1H0.6","symbolSize":90,"symbolStrokeWidth":3,"rowPadding":0}
}
}
